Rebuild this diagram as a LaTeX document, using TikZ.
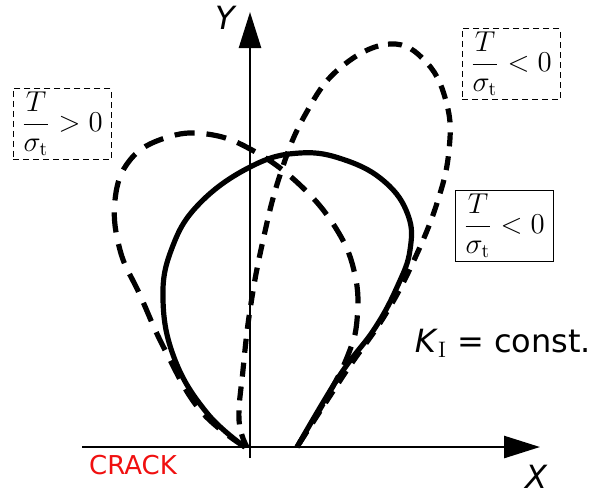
\documentclass[tikz,border=0pt]{standalone}
\usepackage{amsmath}
\usepackage{fontspec}
\setsansfont{DejaVu Sans}
\usepackage{tikz}
\usetikzlibrary{arrows.meta}
\definecolor{cCrack}{HTML}{F01010}
\tikzset{
  axis/.style={line width=1.3pt, -{Triangle[length=18pt,width=11pt]}},
  zone/.style={line width=2.6pt, line join=round},
  zoneLong/.style={zone, dash pattern=on 10pt off 6pt},
  zoneShort/.style={zone, dash pattern=on 7pt off 5pt},
  cond/.style={draw, line width=0.5pt, minimum width=49pt, minimum height=34pt,
               inner sep=2pt, font=\fontsize{14}{16}\selectfont},
  lbl/.style={font=\sffamily\itshape\fontsize{16}{18}\selectfont},
}

\begin{document}
\begin{tikzpicture}[x=0.5pt, y=-0.5pt]
  \useasboundingbox (0,0) rectangle (593,495);
  % axes
  \coordinate (xs) at (82,447);  \coordinate (xe) at (540,447);
  \coordinate (ys) at (250,458); \coordinate (ye) at (250,12);
  \draw[axis] (xs) -- (xe);
  \draw[axis] (ys) -- (ye);
  \node[lbl] (ylab) at (225,18) {Y};
  \node[lbl] (xlab) at (536,477) {X};
  \node[font=\sffamily\fontsize{13}{15}\selectfont, text=cCrack] (crack) at (133,465) {CRACK};
  % plastic zones
  \draw[zone] plot[smooth, tension=0.7] coordinates {
    (245,447) (207,413) (175,360) (163,300) (172,248) (200,203) (252,166)
    (300,153) (345,160) (385,182) (408,215) (410,250) (398,285) (375,328)
    (340,375) (297,447)};
  \draw[zoneLong] plot[smooth, tension=0.7] coordinates {
    (245,447) (200,410) (165,350) (140,295) (120,250) (115,200) (130,160)
    (165,138) (207,134) (252,150) (300,185) (337,230) (355,275) (357,320)
    (348,355) (327,397) (297,447)};
  \draw[zoneShort] plot[smooth, tension=0.7] coordinates {
    (247,447) (239,420) (243,370) (250,310) (262,245) (280,175) (305,115)
    (340,68) (390,44) (427,63) (447,105) (449,150) (438,200) (415,258)
    (385,315) (345,373) (297,447)};
  % conditions
  \node[cond, dash pattern=on 3pt off 2pt] (bpos) at (62,124) {$\dfrac{T}{\sigma_{\mathrm{t}}}>0$};
  \node[cond, dash pattern=on 3pt off 2pt] (bnegd) at (511,64) {$\dfrac{T}{\sigma_{\mathrm{t}}}<0$};
  \node[cond] (bnegs) at (504,226) {$\dfrac{T}{\sigma_{\mathrm{t}}}<0$};
  \node[font=\sffamily\fontsize{16}{18}\selectfont] (kconst) at (503,343) {\textit{K}$_{\mathrm{I}}$ = const.};
\end{tikzpicture}
\end{document}
